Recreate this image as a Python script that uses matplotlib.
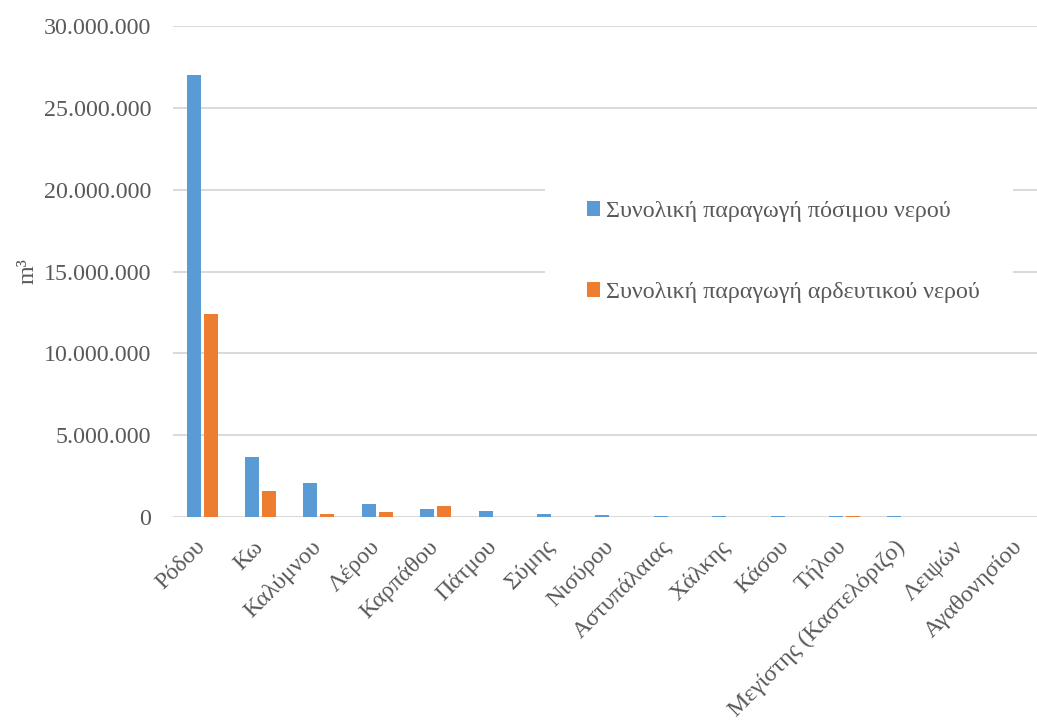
import matplotlib
matplotlib.use("Agg")
import matplotlib.pyplot as plt
import numpy as np
from matplotlib.patches import Rectangle
from matplotlib.ticker import FuncFormatter, MultipleLocator
from matplotlib.transforms import ScaledTranslation

# Παραγωγή νερού ανά νησί (m3)
islands = [
    "Ρόδου", "Κω", "Καλύμνου", "Λέρου", "Καρπάθου", "Πάτμου", "Σύμης",
    "Νισύρου", "Αστυπάλαιας", "Χάλκης", "Κάσου", "Τήλου",
    "Μεγίστης (Καστελόριζο)", "Λειψών", "Αγαθονησίου",
]
potable = [27_000_000, 3_670_000, 2_060_000, 790_000, 490_000, 350_000, 210_000,
           120_000, 80_000, 40_000, 40_000, 40_000, 40_000, 0, 0]
irrigation = [12_400_000, 1_590_000, 170_000, 290_000, 650_000, 0, 0,
              0, 30_000, 0, 0, 40_000, 0, 0, 0]
series_labels = ["Συνολική παραγωγή πόσιμου νερού", "Συνολική παραγωγή αρδευτικού νερού"]

BLUE = "#5B9BD5"
ORANGE = "#ED7D31"
TEXT = "#595959"
GRID = "#D9D9D9"
FS = 17.3

plt.rcParams["font.family"] = ["Liberation Serif", "DejaVu Serif"]
plt.rcParams["font.size"] = FS

fig = plt.figure(figsize=(10.37, 7.2), dpi=100)
ax = fig.add_axes([173 / 1037, 203 / 720, 864 / 1037, 491 / 720])

x = np.arange(len(islands))
w = 0.24
ax.bar(x - 0.145, potable, w, color=BLUE, label=series_labels[0], zorder=3)
ax.bar(x + 0.145, irrigation, w, color=ORANGE, label=series_labels[1], zorder=3)

ax.set_xlim(-0.5, 14.3)
ax.set_ylim(0, 30_000_000)
ax.yaxis.set_major_locator(MultipleLocator(5_000_000))
ax.yaxis.set_major_formatter(FuncFormatter(lambda v, _: f"{v:,.0f}".replace(",", ".")))
ax.yaxis.grid(True, color=GRID, linewidth=1.4, zorder=0)
ax.set_axisbelow(True)
for s in ax.spines.values():
    s.set_visible(False)

ax.tick_params(axis="y", length=0, pad=15.5, colors=TEXT, labelsize=FS)
ax.tick_params(axis="x", length=0, pad=14, colors=TEXT, labelsize=FS)
ax.set_xticks(x)
ax.set_xticklabels(islands, rotation=45, ha="right", va="top", rotation_mode="anchor")
shift = ScaledTranslation(-8 / 100, 0, fig.dpi_scale_trans)
for lbl in ax.get_xticklabels():
    lbl.set_transform(lbl.get_transform() + shift)

ax.set_ylabel("m³", color=TEXT, fontsize=FS)
ax.yaxis.set_label_coords(-0.156, 0.5)

# λευκό πλαίσιο πίσω από το υπόμνημα, πάνω από τις γραμμές πλέγματος
ax.add_patch(Rectangle((545 / 1037, 1 - 322 / 720), 468 / 1037, 142 / 720,
                       transform=fig.transFigure, facecolor="white",
                       edgecolor="none", zorder=2, clip_on=False))

leg = ax.legend(
    loc="upper left", bbox_to_anchor=(563 / 1037, 1 - 177 / 720),
    bbox_transform=fig.transFigure, frameon=False,
    handlelength=0.55, handleheight=0.55, handletextpad=0.25,
    labelspacing=2.5, borderpad=0.5, fontsize=FS,
)
for t in leg.get_texts():
    t.set_color(TEXT)

fig.savefig("out.png", dpi=100, facecolor="white")
